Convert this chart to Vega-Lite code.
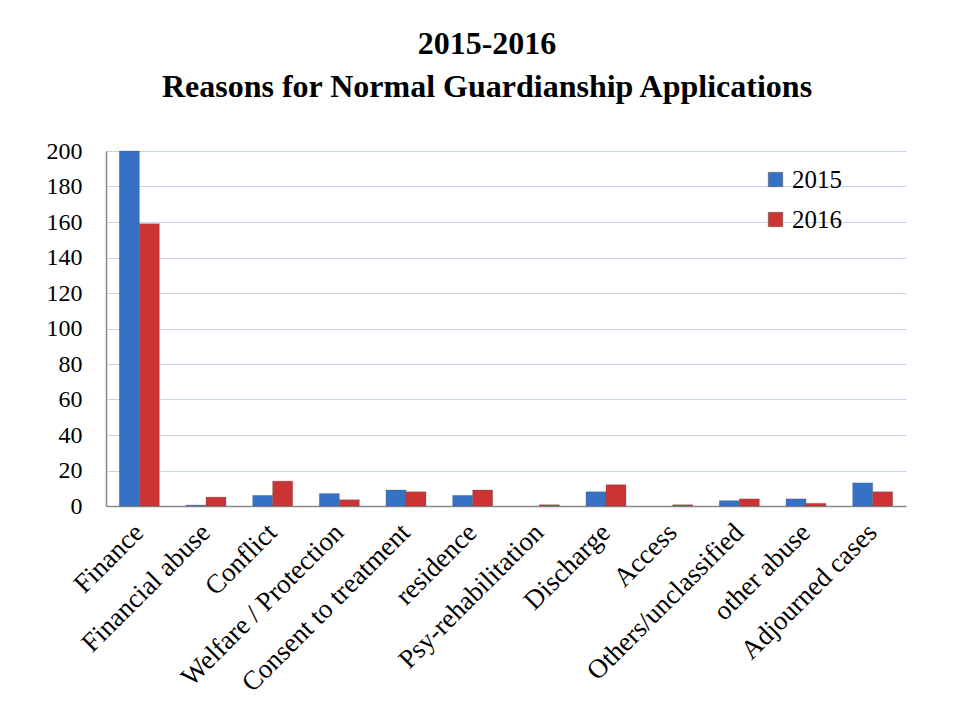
{
  "$schema": "https://vega.github.io/schema/vega-lite/v6.json",
  "width": 800,
  "height": 355,
  "autosize": {"type": "none"},
  "padding": {"left": 106, "top": 151, "right": 54, "bottom": 215},
  "background": "white",
  "config": {"view": {"stroke": null}},
  "title": {
    "text": ["2015-2016", "Reasons for Normal Guardianship Applications"],
    "font": "'Liberation Serif', 'DejaVu Serif', serif",
    "fontSize": 32,
    "fontWeight": "bold",
    "color": "black",
    "anchor": "middle",
    "lineHeight": 43,
    "offset": 35,
    "dx": -19
  },
  "data": {
    "values": [
      {"reason": "Finance", "year": "2015", "count": 200},
      {"reason": "Finance", "year": "2016", "count": 159},
      {"reason": "Financial abuse", "year": "2015", "count": 0.5},
      {"reason": "Financial abuse", "year": "2016", "count": 5},
      {"reason": "Conflict", "year": "2015", "count": 6},
      {"reason": "Conflict", "year": "2016", "count": 14},
      {"reason": "Welfare / Protection", "year": "2015", "count": 7},
      {"reason": "Welfare / Protection", "year": "2016", "count": 3.5},
      {"reason": "Consent to treatment", "year": "2015", "count": 9},
      {"reason": "Consent to treatment", "year": "2016", "count": 8},
      {"reason": "residence", "year": "2015", "count": 6},
      {"reason": "residence", "year": "2016", "count": 9},
      {"reason": "Psy-rehabilitation", "year": "2015", "count": null},
      {"reason": "Psy-rehabilitation", "year": "2016", "count": 0.7},
      {"reason": "Discharge", "year": "2015", "count": 8},
      {"reason": "Discharge", "year": "2016", "count": 12},
      {"reason": "Access", "year": "2015", "count": null},
      {"reason": "Access", "year": "2016", "count": 0.7},
      {"reason": "Others/unclassified", "year": "2015", "count": 3},
      {"reason": "Others/unclassified", "year": "2016", "count": 4},
      {"reason": "other abuse", "year": "2015", "count": 4},
      {"reason": "other abuse", "year": "2016", "count": 1.5},
      {"reason": "Adjourned cases", "year": "2015", "count": 13},
      {"reason": "Adjourned cases", "year": "2016", "count": 8}
    ]
  },
  "mark": {"type": "bar", "strokeWidth": 0.6, "stroke": "#555555", "strokeOpacity": 0.5},
  "encoding": {
    "x": {
      "field": "reason",
      "type": "nominal",
      "sort": null,
      "title": null,
      "scale": {"paddingInner": 0.4, "paddingOuter": 0.2},
      "axis": {
        "labelAngle": -45,
        "labelAlign": "right",
        "labelBaseline": "middle",
        "labelFont": "Liberation Serif",
        "labelFontSize": 27,
        "labelColor": "black",
        "labelPadding": 22,
        "labelLimit": 400,
        "ticks": false,
        "domainColor": "#888888",
        "domainWidth": 1.5
      }
    },
    "xOffset": {"field": "year", "type": "nominal"},
    "y": {
      "field": "count",
      "type": "quantitative",
      "title": null,
      "scale": {"domain": [0, 200], "nice": false},
      "axis": {
        "values": [0, 20, 40, 60, 80, 100, 120, 140, 160, 180, 200],
        "labelFont": "Liberation Serif",
        "labelFontSize": 24,
        "labelColor": "black",
        "labelPadding": 24,
        "ticks": false,
        "grid": true,
        "gridColor": "#c5d3ef",
        "gridWidth": 1.2,
        "domainColor": "#888888",
        "domainWidth": 1.5
      }
    },
    "color": {
      "field": "year",
      "type": "nominal",
      "scale": {"range": ["#3571c4", "#cc3333"]},
      "legend": {
        "title": null,
        "orient": "none",
        "legendX": 657,
        "legendY": 16,
        "symbolType": "square",
        "symbolSize": 210,
        "symbolStrokeColor": "#555555",
        "symbolStrokeWidth": 0.5,
        "labelFont": "Liberation Serif",
        "labelFontSize": 25,
        "labelColor": "black",
        "labelOffset": 4,
        "rowPadding": 14,
        "padding": 0
      }
    }
  }
}
